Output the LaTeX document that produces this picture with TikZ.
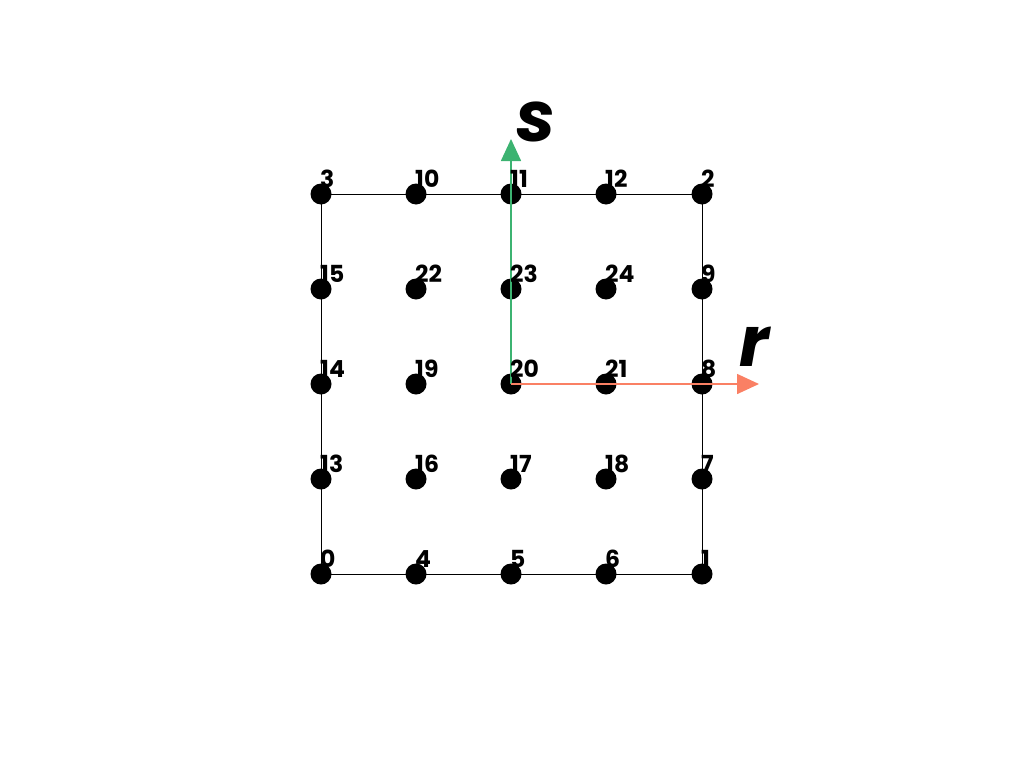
\documentclass[tikz,border=0pt]{standalone}
\usepackage{fontspec}
\newfontfamily\labfont{Poppins}
\usetikzlibrary{arrows.meta}
\definecolor{sgreen}{RGB}{60,179,113}
\definecolor{sred}{RGB}{250,128,100}
\tikzset{
  pt/.style={circle,fill=black,inner sep=0pt,minimum size=21pt},
  lab/.style={anchor=base west,inner sep=0pt,font=\labfont\bfseries\fontsize{23.5}{23.5}\selectfont},
  gridline/.style={draw=black,line width=0.8pt},
  axis/.style={line width=1.6pt,-{Triangle[length=22pt,width=20pt]}},
  axlab/.style={inner sep=0pt,font=\labfont\bfseries\itshape\fontsize{70}{70}\selectfont}
}
\begin{document}
\begin{tikzpicture}[x=1pt,y=-1pt]
\useasboundingbox (0,0) rectangle (1024,768);
\coordinate (c0) at (321,574);
\coordinate (c1) at (702,574);
\coordinate (c2) at (702,194);
\coordinate (c3) at (321,194);
\draw[gridline] (c0) -- (c1) -- (c2) -- (c3) -- cycle;
\foreach \n/\x/\y in {0/321/574,4/416/574,5/511/574,6/606/574,1/702/574,
  13/321/479,16/416/479,17/511/479,18/606/479,7/702/479,
  14/321/384,19/416/384,20/511/384,21/606/384,8/702/384,
  15/321/289,22/416/289,23/511/289,24/606/289,9/702/289,
  3/321/194,10/416/194,11/511/194,12/606/194,2/702/194}{
  \node[pt] (p\n) at (\x,\y) {};
}
\coordinate (sEnd) at (511,139);
\coordinate (rEnd) at (759,384);
\draw[axis,draw=sgreen,fill=sgreen] (p20.center) -- (sEnd);
\draw[axis,draw=sred,fill=sred] (p20.center) -- (rEnd);
\foreach \n/\x/\y in {0/321/574,4/416/574,5/511/574,6/606/574,1/702/574,
  13/321/479,16/416/479,17/511/479,18/606/479,7/702/479,
  14/321/384,19/416/384,20/511/384,21/606/384,8/702/384,
  15/321/289,22/416/289,23/511/289,24/606/289,9/702/289,
  3/321/194,10/416/194,11/511/194,12/606/194,2/702/194}{
  \node[lab] (l\n) at (\x-1,\y-7) {\n};
}
\node[axlab,anchor=base west] (slab) at (516,141) {s};
\node[axlab,anchor=base west] (rlab) at (739,366) {r};
\end{tikzpicture}
\end{document}
